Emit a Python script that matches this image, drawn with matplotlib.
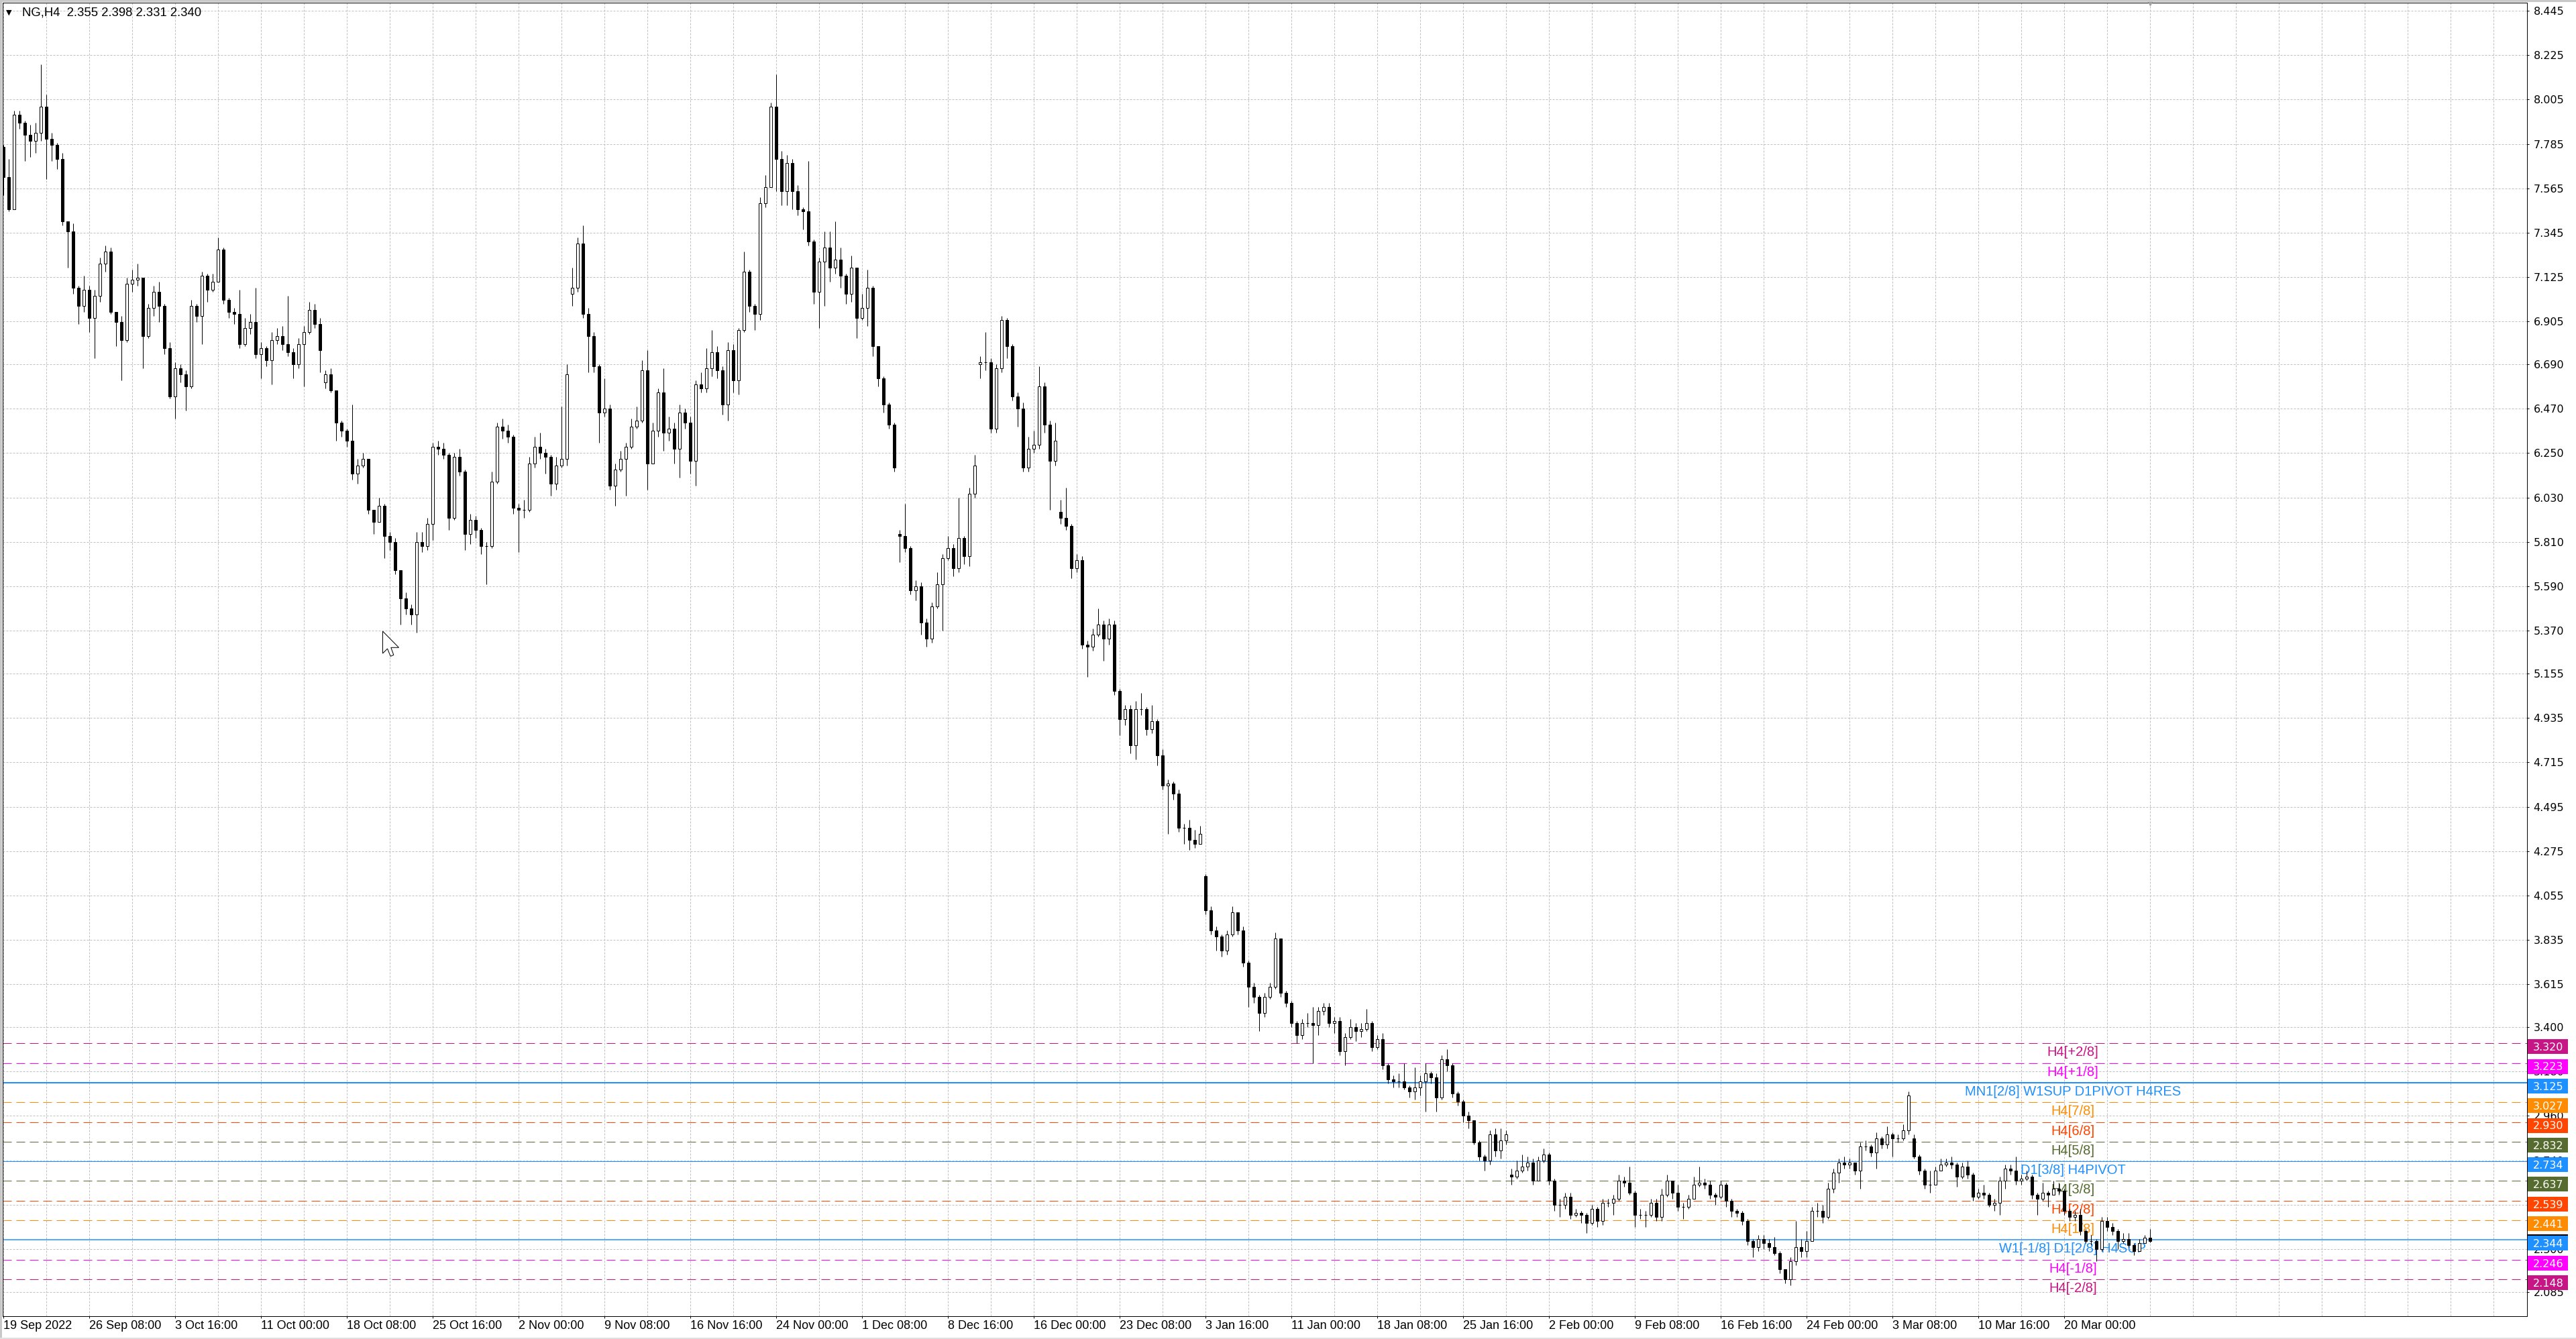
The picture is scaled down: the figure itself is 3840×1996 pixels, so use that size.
import numpy as np
import matplotlib
matplotlib.use("Agg")
import matplotlib.pyplot as plt
from matplotlib.patches import Rectangle, Polygon
from matplotlib.transforms import blended_transform_factory

plt.rcParams['font.family'] = ['DejaVu Sans']
plt.rcParams['lines.scale_dashes'] = False

# NG,H4 candles (two H4 bars per candle)
first_open = 7.77
closes = [
    7.62, 7.46, 7.93, 7.89, 7.83, 7.80, 7.84, 7.97, 7.81, 7.78,
    7.71, 7.40, 7.35, 7.07, 6.98, 7.06, 6.92, 7.03, 7.19, 7.25,
    6.95, 6.90, 6.81, 7.09, 7.11, 7.12, 6.83, 6.97, 7.05, 6.98,
    6.77, 6.53, 6.67, 6.64, 6.58, 6.98, 6.93, 7.13, 7.06, 7.10,
    7.26, 7.01, 6.95, 6.94, 6.79, 6.87, 6.90, 6.74, 6.77, 6.71,
    6.81, 6.83, 6.79, 6.75, 6.69, 6.79, 6.85, 6.96, 6.89, 6.76,
    6.64, 6.56, 6.40, 6.36, 6.31, 6.15, 6.19, 6.22, 5.97, 5.91,
    5.99, 5.84, 5.81, 5.67, 5.53, 5.48, 5.45, 5.81, 5.79, 5.90,
    6.28, 6.27, 6.24, 5.93, 6.23, 6.16, 5.85, 5.92, 5.87, 5.79,
    5.79, 6.11, 6.38, 6.36, 6.33, 5.98, 5.97, 5.97, 6.20, 6.28,
    6.25, 6.23, 6.10, 6.19, 6.22, 6.64, 7.07, 7.29, 6.94, 6.83,
    6.68, 6.45, 6.47, 6.09, 6.17, 6.22, 6.28, 6.38, 6.41, 6.66,
    6.20, 6.36, 6.55, 6.35, 6.37, 6.27, 6.45, 6.40, 6.21, 6.59,
    6.57, 6.67, 6.75, 6.66, 6.49, 6.76, 6.61, 6.86, 7.15, 6.98,
    6.94, 7.49, 7.57, 7.97, 7.71, 7.55, 7.69, 7.55, 7.46, 7.45,
    7.30, 7.05, 7.20, 7.27, 7.17, 7.21, 7.13, 7.04, 7.17, 6.92,
    6.97, 7.07, 6.78, 6.62, 6.49, 6.39, 6.18, 5.84, 5.78, 5.57,
    5.59, 5.41, 5.33, 5.49, 5.60, 5.73, 5.78, 5.68, 5.83, 5.74,
    6.05, 6.19, 6.70, 6.70, 6.37, 6.67, 6.91, 6.78, 6.53, 6.47,
    6.18, 6.27, 6.29, 6.58, 6.39, 6.21, 6.31, 5.93, 5.89, 5.68,
    5.72, 5.30, 5.29, 5.35, 5.40, 5.33, 5.40, 5.07, 4.93, 4.98,
    4.80, 4.98, 4.98, 4.88, 4.92, 4.75, 4.60, 4.61, 4.56, 4.39,
    4.39, 4.33, 4.31, 4.36, 3.98, 3.88, 3.85, 3.78, 3.86, 3.97,
    3.88, 3.72, 3.60, 3.55, 3.47, 3.55, 3.60, 3.84, 3.57, 3.52,
    3.42, 3.36, 3.42, 3.42, 3.41, 3.48, 3.50, 3.42, 3.43, 3.28,
    3.35, 3.40, 3.38, 3.39, 3.42, 3.30, 3.34, 3.21, 3.14, 3.13,
    3.13, 3.10, 3.08, 3.10, 3.13, 3.17, 3.15, 3.05, 3.24, 3.21,
    3.07, 3.03, 2.96, 2.94, 2.83, 2.76, 2.74, 2.87, 2.79, 2.84,
    2.87, 2.66, 2.69, 2.71, 2.73, 2.64, 2.74, 2.77, 2.64, 2.52,
    2.52, 2.56, 2.47, 2.48, 2.47, 2.43, 2.50, 2.44, 2.53, 2.53,
    2.55, 2.64, 2.63, 2.58, 2.47, 2.47, 2.47, 2.53, 2.46, 2.57,
    2.64, 2.58, 2.51, 2.51, 2.55, 2.62, 2.63, 2.62, 2.57, 2.56,
    2.62, 2.54, 2.49, 2.48, 2.44, 2.34, 2.31, 2.35, 2.33, 2.31,
    2.28, 2.20, 2.15, 2.24, 2.31, 2.29, 2.34, 2.49, 2.49, 2.46,
    2.60, 2.68, 2.73, 2.72, 2.73, 2.69, 2.81, 2.81, 2.78, 2.85,
    2.82, 2.87, 2.85, 2.85, 2.89, 3.06, 2.76, 2.69, 2.62, 2.62,
    2.69, 2.72, 2.73, 2.72, 2.66, 2.71, 2.67, 2.56, 2.58, 2.57,
    2.52, 2.53, 2.64, 2.70, 2.69, 2.64, 2.65, 2.66, 2.57, 2.55,
    2.58, 2.57, 2.60, 2.59, 2.49, 2.46, 2.47, 2.39, 2.34, 2.34,
    2.30, 2.44, 2.41, 2.39, 2.34, 2.35, 2.32, 2.29, 2.33, 2.355,
    2.340,
]
highs = [
    7.78, 7.71, 7.95, 7.95, 7.90, 7.88, 7.89, 8.18, 8.03, 7.84,
    7.79, 7.74, 7.40, 7.39, 7.08, 7.13, 7.08, 7.06, 7.22, 7.28,
    7.27, 6.95, 6.93, 7.12, 7.16, 7.19, 7.12, 6.99, 7.08, 7.10,
    6.99, 6.80, 6.70, 6.69, 6.66, 7.01, 6.99, 7.15, 7.14, 7.14,
    7.32, 7.27, 7.02, 6.97, 7.06, 6.92, 6.94, 7.07, 6.80, 6.78,
    6.85, 6.87, 6.88, 7.03, 6.77, 6.82, 6.88, 7.00, 6.99, 6.92,
    6.66, 6.67, 6.56, 6.41, 6.37, 6.49, 6.22, 6.25, 6.22, 5.97,
    6.03, 6.00, 5.86, 5.83, 5.67, 5.56, 5.50, 5.86, 5.86, 5.93,
    6.30, 6.31, 6.30, 6.25, 6.25, 6.27, 6.17, 5.95, 5.94, 5.88,
    5.81, 6.16, 6.40, 6.42, 6.39, 6.34, 6.00, 6.02, 6.23, 6.33,
    6.35, 6.27, 6.24, 6.23, 6.48, 6.69, 7.17, 7.32, 7.38, 6.97,
    6.85, 6.69, 6.62, 6.49, 6.20, 6.26, 6.30, 6.42, 6.48, 6.71,
    6.76, 6.40, 6.57, 6.67, 6.43, 6.40, 6.49, 6.47, 6.43, 6.61,
    6.65, 6.77, 6.86, 6.78, 6.68, 6.80, 6.79, 6.87, 7.25, 7.16,
    6.99, 7.52, 7.63, 7.99, 8.13, 7.75, 7.73, 7.71, 7.58, 7.47,
    7.70, 7.31, 7.22, 7.35, 7.35, 7.40, 7.27, 7.14, 7.23, 7.16,
    7.04, 7.16, 7.08, 6.78, 6.63, 6.50, 6.40, 5.87, 6.00, 5.79,
    5.62, 5.61, 5.43, 5.51, 5.66, 5.75, 5.84, 5.80, 6.03, 5.84,
    6.08, 6.24, 6.73, 6.85, 6.72, 6.69, 6.93, 6.92, 6.79, 6.55,
    6.50, 6.33, 6.36, 6.68, 6.60, 6.41, 6.40, 6.02, 6.08, 5.90,
    5.75, 5.74, 5.32, 5.38, 5.48, 5.42, 5.43, 5.42, 5.08, 5.00,
    5.00, 5.02, 5.06, 4.99, 5.00, 4.93, 4.78, 4.63, 4.62, 4.58,
    4.41, 4.43, 4.38, 4.40, 4.16, 4.00, 3.90, 3.86, 3.88, 4.00,
    3.97, 3.90, 3.73, 3.62, 3.56, 3.57, 3.62, 3.87, 3.84, 3.58,
    3.53, 3.43, 3.44, 3.47, 3.50, 3.50, 3.52, 3.52, 3.45, 3.45,
    3.37, 3.44, 3.42, 3.42, 3.49, 3.43, 3.36, 3.37, 3.22, 3.16,
    3.17, 3.22, 3.11, 3.20, 3.16, 3.22, 3.18, 3.17, 3.26, 3.29,
    3.22, 3.08, 3.04, 2.98, 2.94, 2.84, 2.77, 2.89, 2.90, 2.90,
    2.89, 2.70, 2.74, 2.77, 2.76, 2.75, 2.76, 2.80, 2.78, 2.65,
    2.55, 2.58, 2.58, 2.50, 2.49, 2.48, 2.52, 2.51, 2.55, 2.55,
    2.57, 2.67, 2.66, 2.71, 2.59, 2.50, 2.49, 2.55, 2.55, 2.60,
    2.67, 2.64, 2.62, 2.53, 2.57, 2.66, 2.71, 2.65, 2.64, 2.58,
    2.64, 2.63, 2.55, 2.50, 2.49, 2.45, 2.35, 2.37, 2.37, 2.35,
    2.36, 2.29, 2.20, 2.26, 2.44, 2.35, 2.39, 2.51, 2.53, 2.52,
    2.63, 2.70, 2.75, 2.76, 2.75, 2.73, 2.83, 2.84, 2.82, 2.88,
    2.86, 2.91, 2.88, 2.87, 2.92, 3.08, 2.87, 2.77, 2.70, 2.69,
    2.71, 2.75, 2.75, 2.76, 2.73, 2.73, 2.74, 2.68, 2.60, 2.62,
    2.58, 2.55, 2.66, 2.72, 2.72, 2.76, 2.67, 2.69, 2.67, 2.58,
    2.63, 2.59, 2.64, 2.63, 2.60, 2.50, 2.49, 2.50, 2.40, 2.37,
    2.35, 2.46, 2.46, 2.43, 2.40, 2.38, 2.38, 2.33, 2.35, 2.37,
    2.398,
]
lows = [
    7.53, 7.45, 7.47, 7.86, 7.70, 7.72, 7.74, 7.80, 7.61, 7.70,
    7.66, 7.38, 7.17, 7.04, 6.89, 6.95, 6.85, 6.72, 7.00, 7.15,
    6.94, 6.78, 6.61, 6.80, 7.05, 7.08, 6.67, 6.82, 6.93, 6.90,
    6.74, 6.52, 6.42, 6.60, 6.46, 6.57, 6.90, 6.79, 7.00, 7.05,
    7.10, 6.99, 6.92, 6.89, 6.77, 6.78, 6.84, 6.72, 6.62, 6.68,
    6.59, 6.79, 6.76, 6.73, 6.62, 6.67, 6.58, 6.84, 6.87, 6.65,
    6.57, 6.55, 6.31, 6.33, 6.28, 6.12, 6.10, 6.18, 5.95, 5.85,
    5.93, 5.73, 5.77, 5.65, 5.40, 5.45, 5.40, 5.36, 5.76, 5.77,
    5.82, 6.24, 6.22, 5.87, 5.92, 6.14, 5.77, 5.80, 5.83, 5.75,
    5.60, 5.78, 6.10, 6.32, 6.30, 5.95, 5.76, 5.93, 5.96, 6.18,
    6.22, 6.15, 6.04, 6.07, 6.18, 6.19, 6.98, 7.05, 6.92, 6.65,
    6.65, 6.30, 6.43, 6.07, 5.99, 6.16, 6.04, 6.27, 6.37, 6.40,
    6.07, 6.29, 6.33, 6.26, 6.31, 6.20, 6.13, 6.37, 6.15, 6.09,
    6.55, 6.55, 6.63, 6.62, 6.44, 6.41, 6.55, 6.54, 6.85, 6.95,
    6.86, 6.91, 7.47, 7.57, 7.55, 7.48, 7.48, 7.46, 7.43, 7.36,
    7.28, 6.99, 6.87, 6.98, 7.10, 7.14, 7.07, 6.99, 7.00, 6.82,
    6.91, 6.88, 6.73, 6.58, 6.45, 6.37, 6.16, 5.71, 5.76, 5.55,
    5.52, 5.35, 5.29, 5.31, 5.48, 5.37, 5.72, 5.64, 5.66, 5.70,
    5.69, 6.03, 6.62, 6.66, 6.35, 6.35, 6.65, 6.72, 6.51, 6.38,
    6.16, 6.16, 6.25, 6.27, 6.35, 5.97, 6.19, 5.90, 5.87, 5.63,
    5.66, 5.28, 5.14, 5.27, 5.34, 5.22, 5.30, 5.05, 4.85, 4.90,
    4.76, 4.73, 4.95, 4.85, 4.86, 4.70, 4.58, 4.36, 4.53, 4.37,
    4.31, 4.28, 4.29, 4.32, 3.96, 3.86, 3.78, 3.75, 3.76, 3.85,
    3.86, 3.70, 3.50, 3.52, 3.38, 3.45, 3.54, 3.59, 3.55, 3.50,
    3.40, 3.32, 3.34, 3.40, 3.22, 3.36, 3.46, 3.40, 3.37, 3.26,
    3.21, 3.34, 3.33, 3.35, 3.38, 3.28, 3.29, 3.19, 3.12, 3.10,
    3.10, 3.09, 3.05, 3.04, 3.06, 2.98, 3.12, 2.98, 3.04, 3.18,
    3.05, 3.01, 2.93, 2.90, 2.82, 2.74, 2.69, 2.72, 2.76, 2.75,
    2.82, 2.62, 2.65, 2.68, 2.69, 2.62, 2.65, 2.73, 2.62, 2.49,
    2.46, 2.50, 2.45, 2.46, 2.43, 2.38, 2.42, 2.41, 2.42, 2.51,
    2.47, 2.54, 2.61, 2.57, 2.41, 2.45, 2.41, 2.46, 2.44, 2.44,
    2.56, 2.55, 2.49, 2.45, 2.50, 2.55, 2.61, 2.60, 2.55, 2.52,
    2.55, 2.51, 2.46, 2.46, 2.42, 2.32, 2.26, 2.29, 2.30, 2.29,
    2.27, 2.18, 2.13, 2.12, 2.22, 2.26, 2.26, 2.34, 2.46, 2.43,
    2.45, 2.58, 2.63, 2.70, 2.70, 2.67, 2.60, 2.79, 2.76, 2.70,
    2.80, 2.80, 2.76, 2.83, 2.84, 2.87, 2.75, 2.67, 2.60, 2.58,
    2.62, 2.69, 2.71, 2.70, 2.61, 2.65, 2.65, 2.54, 2.55, 2.55,
    2.51, 2.49, 2.47, 2.60, 2.67, 2.62, 2.62, 2.64, 2.55, 2.47,
    2.54, 2.51, 2.58, 2.57, 2.47, 2.44, 2.44, 2.37, 2.33, 2.32,
    2.24, 2.29, 2.39, 2.37, 2.30, 2.33, 2.31, 2.27, 2.29, 2.33,
    2.331,
]
# candles that open away from the previous close (weekend / contract roll)
gap_opens = {60: 6.60, 106: 7.04, 167: 5.85, 182: 6.69, 197: 5.96,
             224: 4.15, 281: 2.67, 356: 2.85}
last_bid = 2.340

header = "NG,H4  2.355 2.398 2.331 2.340"

xtick_labels = [
    "19 Sep 2022", "26 Sep 08:00", "3 Oct 16:00", "11 Oct 00:00",
    "18 Oct 08:00", "25 Oct 16:00", "2 Nov 00:00", "9 Nov 08:00",
    "16 Nov 16:00", "24 Nov 00:00", "1 Dec 08:00", "8 Dec 16:00",
    "16 Dec 00:00", "23 Dec 08:00", "3 Jan 16:00", "11 Jan 00:00",
    "18 Jan 08:00", "25 Jan 16:00", "2 Feb 00:00", "9 Feb 08:00",
    "16 Feb 16:00", "24 Feb 00:00", "3 Mar 08:00", "10 Mar 16:00",
    "20 Mar 00:00",
]
bars_per_label = 16

ytick_labels = [
    "8.445", "8.225", "8.005", "7.785", "7.565", "7.345", "7.125", "6.905",
    "6.690", "6.470", "6.250", "6.030", "5.810", "5.590", "5.370", "5.155",
    "4.935", "4.715", "4.495", "4.275", "4.055", "3.835", "3.615", "3.400",
    "3.180", "2.960", "2.740", "2.520", "2.300", "2.085",
]

# Murrey / pivot levels
level_prices = [3.320, 3.223, 3.125, 3.027, 2.930, 2.832, 2.734,
                2.637, 2.539, 2.441, 2.344, 2.246, 2.148]
level_names = ["H4[+2/8]", "H4[+1/8]", "MN1[2/8] W1SUP D1PIVOT H4RES",
               "H4[7/8]", "H4[6/8]", "H4[5/8]", "D1[3/8] H4PIVOT",
               "H4[3/8]", "H4[2/8]", "H4[1/8]", "W1[-1/8] D1[2/8] H4SUP",
               "H4[-1/8]", "H4[-2/8]"]
level_colors = ["#C71585", "#FF00FF", "#1E90FF", "#FF8C00", "#FF4500",
                "#556B2F", "#1E90FF", "#556B2F", "#FF4500", "#FF8C00",
                "#1E90FF", "#FF00FF", "#C71585"]
level_solid = [False, False, True, False, False, False, True,
               False, False, False, True, False, False]
level_width = [1, 1, 2, 1, 1, 1, 1, 1, 1, 1, 1.5, 1, 1]

# ---------------------------------------------------------------------
c = np.array(closes)
h = np.array(highs)
l = np.array(lows)
o = np.array([first_open] + closes[:-1])
for k, v in gap_opens.items():
    o[k] = v
h = np.maximum(h, np.maximum(o, c))
l = np.minimum(l, np.minimum(o, c))
idx = np.arange(len(c))

W, H = 3840, 1996
px = 72 / 100  # one pixel in points
fig = plt.figure(figsize=(W / 100, H / 100), dpi=100)
fig.patch.set_facecolor("white")

ax_l, ax_r, ax_t, ax_b = 4, 3766.5, 4, 1962
ax = fig.add_axes([ax_l / W, 1 - ax_b / H, (ax_r - ax_l) / W, (ax_b - ax_t) / H])
ymin, ymax = 1.966, 8.486
ax.set_xlim(-0.125, (ax_r - ax_l - 1) / 8.0)
ax.set_ylim(ymin, ymax)
unit_px = (ax_b - ax_t) / (ymax - ymin)
trans = blended_transform_factory(ax.transAxes, ax.transData)

# grid
grid_ls = (0, (3 * px, 2 * px))
for gx in range(0, int(ax.get_xlim()[1]) + 1, 8):
    ax.axvline(gx, color="#c0c0c0", lw=px, ls=grid_ls, zorder=1)
ax.set_yticks([float(s) for s in ytick_labels])
ax.set_yticklabels(ytick_labels)
ax.yaxis.grid(True, color="#c0c0c0", lw=px, ls=grid_ls)
ax.set_axisbelow(True)

# levels
label_x = (3090 - ax_l) / (ax_r - ax_l)
for price, name, col, solid, lw in zip(level_prices, level_names, level_colors,
                                       level_solid, level_width):
    if solid:
        ax.axhline(price, color=col, lw=lw * px, zorder=2)
    else:
        ax.axhline(price, color=col, lw=px, ls=(0, (13 * px, 7 * px)), zorder=2)
    ax.annotate(name, xy=(label_x, price), xycoords=trans,
                xytext=(0, -4 * px), textcoords="offset points",
                ha="center", va="top", color=col, fontsize=14.5,
                family="Liberation Sans", zorder=2.6)

# candles
up = c >= o
ax.vlines(idx, l, h, color="black", lw=px, zorder=3)
ax.bar(idx[up], (c - o)[up], bottom=o[up], width=0.5, facecolor="white",
       edgecolor="black", linewidth=px, zorder=4)
ax.bar(idx[~up], (c - o)[~up], bottom=o[~up], width=0.5, facecolor="black",
       edgecolor="black", linewidth=px, zorder=4)

# axes look
for sp in ax.spines.values():
    sp.set_color("black")
    sp.set_linewidth(px)
ax.yaxis.tick_right()
ax.tick_params(axis="y", direction="out", length=3 * px, width=px,
               pad=7 * px, labelsize=11.5, colors="black")
ax.set_xticks(idx[::bars_per_label][:len(xtick_labels)])
ax.set_xticklabels(xtick_labels, fontsize=13, family="Liberation Sans")
for t in ax.get_xticklabels():
    t.set_ha("left")
ax.tick_params(axis="x", direction="out", length=3 * px, width=px,
               pad=3 * px, colors="black")

# price boxes on the right scale
bx0 = (3768 - ax_l) / (ax_r - ax_l)
bw = 60 / (ax_r - ax_l)
tx = (3776 - ax_l) / (ax_r - ax_l)
ax.add_patch(Rectangle((bx0, last_bid + 10 / unit_px - 22 / unit_px), bw,
                       22 / unit_px, transform=trans, fc="black", ec="none",
                       clip_on=False, zorder=9))
for price, col in zip(level_prices, level_colors):
    top = price + 6 / unit_px
    ax.add_patch(Rectangle((bx0, top - 22 / unit_px), bw, 22 / unit_px,
                           transform=trans, fc=col, ec="none",
                           clip_on=False, zorder=10))
    ax.text(tx, top - 11 / unit_px - 5.8 / unit_px, f"{price:.3f}",
            transform=trans, color="white", fontsize=11.5, ha="left",
            va="baseline", zorder=11, clip_on=False)

# chart shift marker
ax.plot([idx[-1]], [1.0], marker="v", ms=6, color="#a0a0a0", mec="#a0a0a0",
        transform=blended_transform_factory(ax.transData, ax.transAxes),
        clip_on=False, zorder=12)

# mouse pointer left on the chart
tip_x, tip_y = 570.5, 941
arrow = [(0, 0), (0, 33), (7, 26), (11.7, 37.3), (16.3, 35.3),
         (12.3, 24.3), (24, 24.3)]
fig.patches.append(Polygon([((tip_x + dx) / W, 1 - (tip_y + dy) / H)
                            for dx, dy in arrow], closed=True,
                           transform=fig.transFigure, fc="white",
                           ec="black", lw=px, zorder=20))

# header
fig.text(9 / W, 1 - 19 / H, "\u25bc", fontsize=8, va="center", ha="left",
         color="black")
fig.text(33 / W, 1 - 19 / H, header, fontsize=13.3, va="center", ha="left",
         family="Liberation Sans", color="black")

# window frame
fig.patches.append(Rectangle((0, 1 - 3 / H), 1, 3 / H, transform=fig.transFigure,
                             fc="#c8c8c8", ec="none"))
fig.patches.append(Rectangle((0, 0), 3 / W, 1, transform=fig.transFigure,
                             fc="#c8c8c8", ec="none"))
fig.patches.append(Rectangle((0, 0), 1, 2 / H, transform=fig.transFigure,
                             fc="#e0e0e0", ec="none"))

fig.savefig("out.png", dpi=100)
